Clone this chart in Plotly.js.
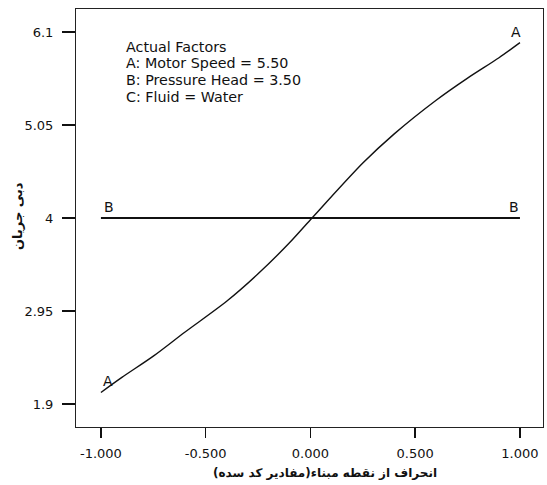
<!DOCTYPE html>
<html>
<head>
<meta charset="utf-8">
<script src="https://cdn.plot.ly/plotly-3.0.1.min.js"></script>
<style>html,body{margin:0;padding:0;background:#fff;}</style>
</head>
<body>
<div id="chart" style="width:547px;height:485px;"></div>
<script>
// Factor A curve (deviation from reference point, coded) vs flow rate
const xA = [-1, -0.9, -0.75, -0.6, -0.4, -0.25, -0.1, 0, 0.25, 0.4, 0.6, 0.75, 0.9, 1];
const yA = [2.03, 2.20, 2.44, 2.71, 3.06, 3.37, 3.72, 3.98, 4.62, 4.95, 5.33, 5.58, 5.81, 5.98];
// Factor B line
const xB = [-1, 1];
const yB = [4.0, 4.0];
const xTicks = [-1, -0.5, 0, 0.5, 1];
const xTickText = ["-1.000", "-0.500", "0.000", "0.500", "1.000"];
const yTicks = [1.9, 2.95, 4, 5.05, 6.1];
const yTickText = ["1.9", "2.95", "4", "5.05", "6.1"];
const factorText = ["Actual Factors", "A: Motor Speed = 5.50", "B: Pressure Head = 3.50", "C: Fluid = Water"];
const xTitle = "انحراف از نقطه مبناء(مفادیر کد سده)";
const yTitle = "دبی جریان";

const traces = [
  {x: xA, y: yA, mode: "lines", line: {color: "#111", width: 1.4, shape: "spline", smoothing: 0.8}, hoverinfo: "skip"},
  {x: xB, y: yB, mode: "lines", line: {color: "#111", width: 2}, hoverinfo: "skip"}
];

const fam = "DejaVu Sans, Verdana, sans-serif";
const lab = {family: fam, size: 14, color: "#111"};
const legendAnn = factorText.map((t, i) => ({
  x: 0.102, y: 1 - (46.5 + 16.8 * i - 9) / 418, xref: "paper", yref: "paper", text: t,
  showarrow: false, xanchor: "left", yanchor: "middle", align: "left",
  font: {family: fam, size: 14.3, color: "#111"}
}));

const layout = {
  width: 547, height: 485,
  margin: {l: 76, r: 4, t: 9, b: 58},
  paper_bgcolor: "#fff", plot_bgcolor: "#fff",
  showlegend: false,
  xaxis: {
    range: [-1.119, 1.11], tickvals: xTicks, ticktext: xTickText,
    ticks: "outside", ticklen: 10, tickwidth: 1.5, tickcolor: "#111",
    ticklabelstandoff: 4,
    showline: true, linecolor: "#222", linewidth: 1, mirror: true,
    showgrid: false, zeroline: false,
    tickfont: {family: fam, size: 13, color: "#111"}
  },
  yaxis: {
    range: [1.64, 6.36], tickvals: yTicks, ticktext: yTickText,
    ticks: "outside", ticklen: 13, tickwidth: 1.5, tickcolor: "#111",
    ticklabelstandoff: 6,
    showline: true, linecolor: "#222", linewidth: 1, mirror: true,
    showgrid: false, zeroline: false,
    tickfont: {family: fam, size: 13, color: "#111"}
  },
  annotations: [
    {x: xA[0], y: yA[0], xref: "x", yref: "y", text: "A", showarrow: false, xanchor: "left", yanchor: "bottom", xshift: 0, yshift: 1, font: lab},
    {x: xA[xA.length - 1], y: yA[yA.length - 1], xref: "x", yref: "y", text: "A", showarrow: false, xanchor: "right", yanchor: "bottom", xshift: 3, yshift: 1, font: lab},
    {x: xB[0], y: yB[0], xref: "x", yref: "y", text: "B", showarrow: false, xanchor: "left", yanchor: "bottom", xshift: 1, yshift: 1, font: lab},
    {x: xB[1], y: yB[1], xref: "x", yref: "y", text: "B", showarrow: false, xanchor: "right", yanchor: "bottom", xshift: 1, yshift: 1, font: lab},
    {x: 0.07, y: -0.11, xref: "x", yref: "paper", text: xTitle, showarrow: false, xanchor: "center", yanchor: "middle",
     font: {family: fam, size: 12, color: "#111", weight: "bold"}},
    {x: -0.124, y: 0.505, xref: "paper", yref: "paper", text: yTitle, textangle: -90, showarrow: false, xanchor: "center", yanchor: "middle",
     font: {family: fam, size: 13, color: "#111", weight: "bold"}}
  ].concat(legendAnn)
};

Plotly.newPlot("chart", traces, layout, {displayModeBar: false, staticPlot: true});
</script>
</body>
</html>
